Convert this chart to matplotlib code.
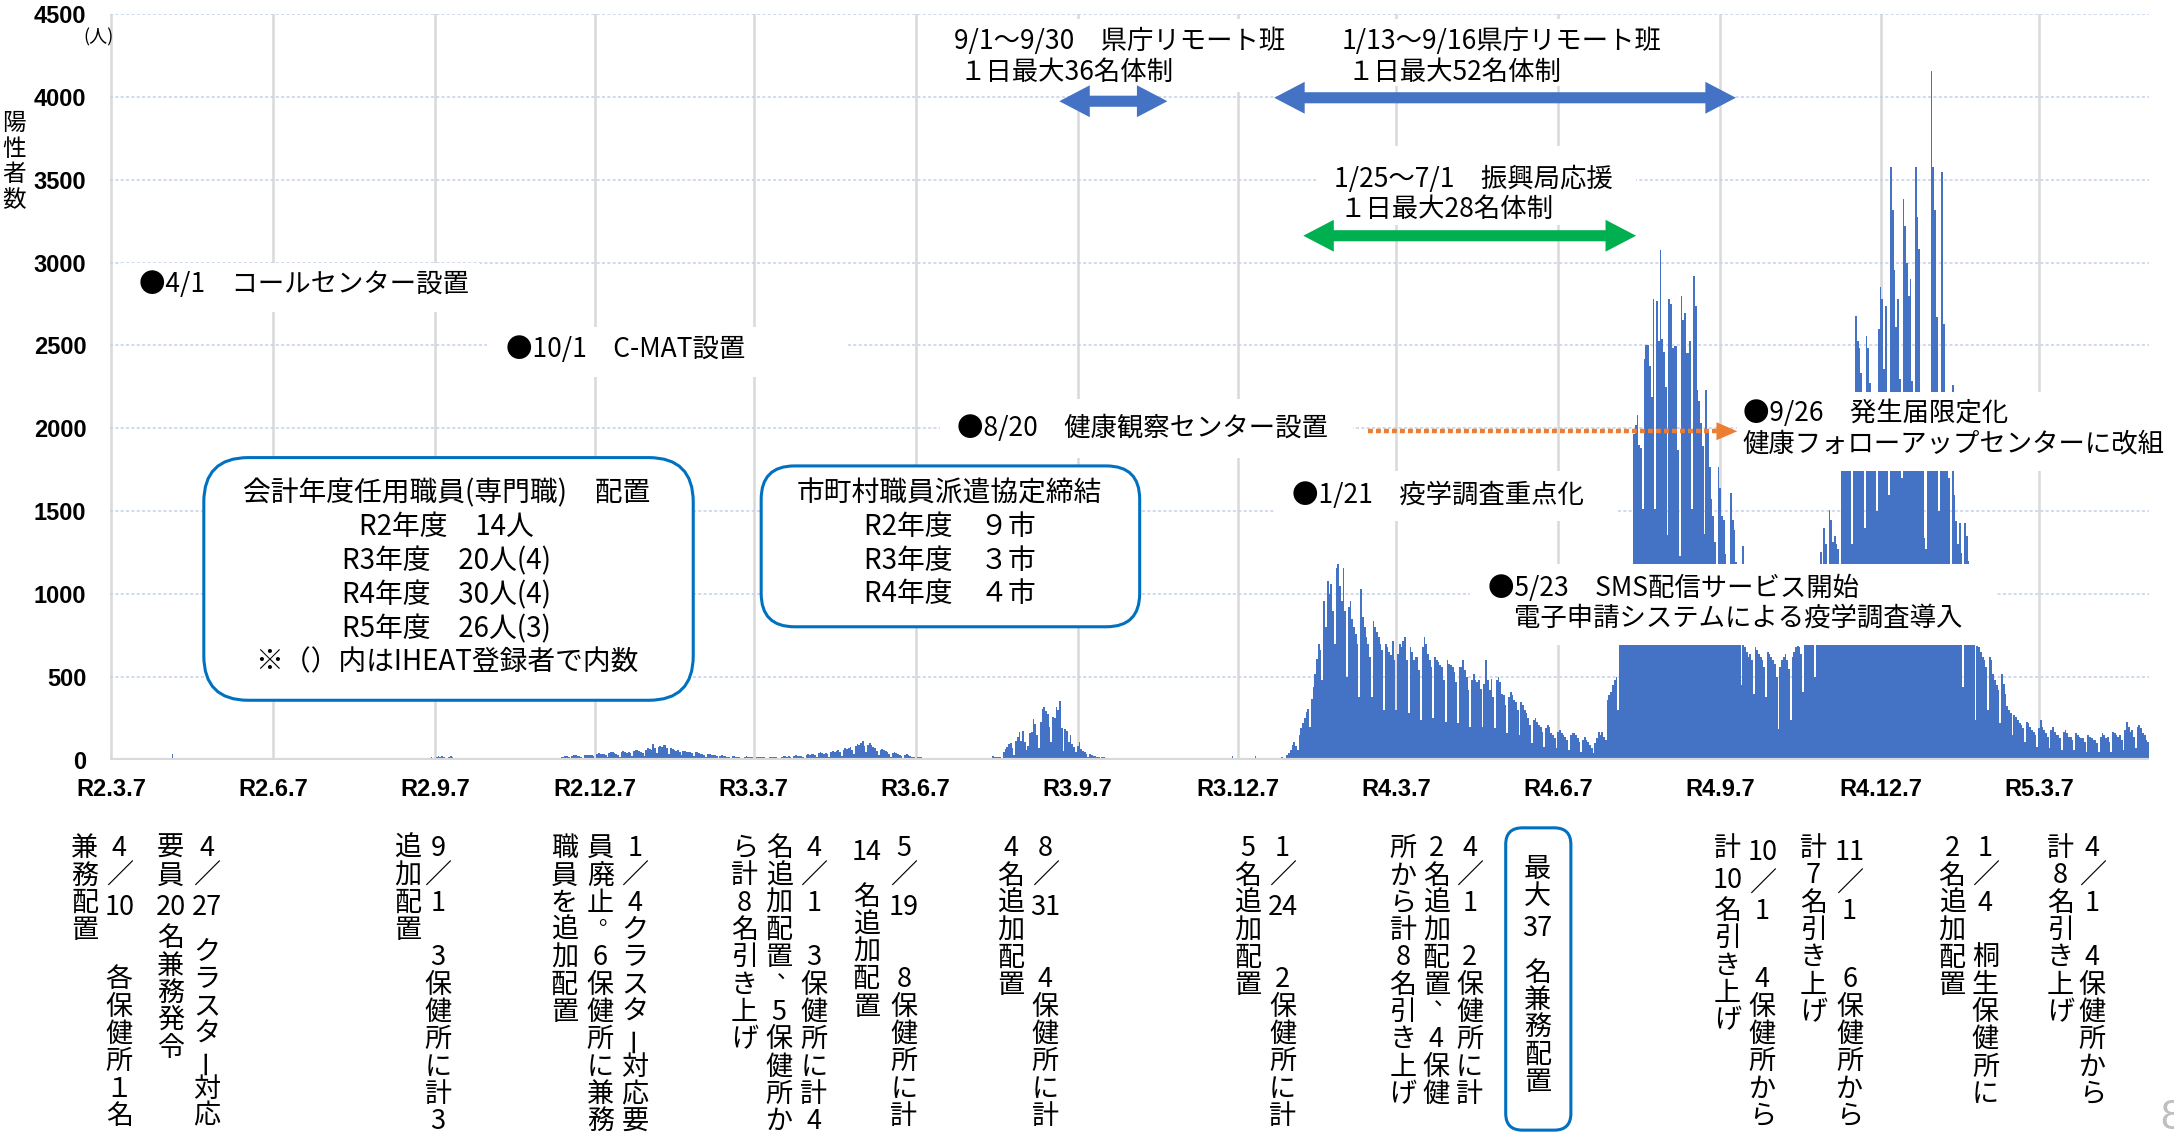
import matplotlib
matplotlib.use('Agg')  # no display in the sandbox
import matplotlib.pyplot as plt
from matplotlib.patches import Rectangle, Polygon, FancyBboxPatch
from matplotlib.lines import Line2D
import pandas as pd

JP = ['Noto Sans CJK JP', 'DejaVu Sans']
NUM = ['Liberation Sans', 'DejaVu Sans']

# daily positives from 2020-03-07, one row per week (Sat .. Fri)
cases_r2 = [
    0, 0, 0, 0, 0, 0, 0,
    0, 0, 0, 1, 0, 0, 0,
    0, 0, 0, 0, 1, 0, 1,
    2, 1, 0, 3, 2, 4, 3,
    5, 3, 1, 6, 8, 7, 9,
    36, 8, 2, 9, 6, 5, 7,
    6, 4, 2, 5, 4, 3, 5,
    3, 2, 0, 2, 3, 2, 1,
    1, 0, 0, 1, 1, 0, 0,
    0, 0, 0, 0, 1, 0, 0,
    0, 0, 0, 0, 0, 0, 0,
    0, 0, 0, 0, 0, 0, 1,
    0, 0, 0, 0, 0, 0, 0,
    0, 0, 0, 1, 0, 0, 0,
    0, 0, 0, 0, 0, 0, 0,
    0, 0, 0, 0, 0, 1, 0,
    0, 1, 0, 0, 0, 0, 0,
    0, 0, 0, 0, 1, 0, 2,
    1, 2, 0, 1, 3, 2, 1,
    2, 1, 0, 3, 2, 4, 3,
    3, 2, 1, 4, 3, 5, 4,
    6, 5, 2, 7, 8, 9, 10,
    12, 8, 4, 10, 13, 11, 9,
    8, 6, 3, 9, 11, 8, 7,
    6, 5, 2, 8, 10, 12, 9,
    7, 4, 2, 6, 8, 9, 12,
    15, 10, 5, 18, 22, 20, 24,
    20, 14, 6, 16, 22, 18, 13,
    10, 7, 3, 8, 9, 7, 6,
    8, 6, 2, 9, 7, 10, 8,
    6, 4, 2, 5, 7, 6, 5,
    4, 3, 1, 6, 8, 7, 6,
    10, 8, 4, 12, 14, 11, 9,
    7, 5, 2, 6, 8, 7, 6,
    5, 4, 2, 6, 7, 8, 6,
    7, 5, 3, 8, 9, 10, 9,
    10, 8, 5, 14, 18, 20, 22,
    24, 18, 10, 26, 30, 28, 25,
    22, 16, 9, 28, 32, 30, 27,
    30, 22, 14, 35, 40, 38, 34,
    36, 28, 16, 42, 45, 50, 40,
    38, 30, 18, 46, 52, 48, 44,
    50, 40, 22, 55, 60, 58, 52,
    48, 42, 25, 62, 70, 66, 60,
    98, 72, 40, 80, 85, 75, 92,
    88, 70, 38, 72, 66, 60, 55,
    58, 46, 28, 52, 55, 50, 45,
    48, 40, 22, 45, 50, 42, 38,
    36, 30, 16, 34, 38, 32, 30,
    28, 22, 12, 26, 30, 25, 22,
    20, 16, 8, 22, 24, 20, 18,
    18, 14, 7, 20, 22, 19, 17,
]
cases_r3 = [
    16, 12, 6, 18, 20, 17, 15,
    15, 12, 6, 16, 20, 18, 16,
    18, 14, 8, 20, 22, 24, 20,
    22, 17, 9, 24, 28, 26, 23,
    26, 20, 12, 30, 34, 32, 36,
    38, 30, 16, 40, 45, 42, 38,
    42, 34, 18, 46, 52, 48, 55,
    58, 45, 25, 62, 70, 66, 72,
    80, 62, 35, 85, 95, 90, 100,
    112, 85, 45, 90, 102, 88, 80,
    70, 55, 30, 62, 66, 58, 52,
    46, 38, 20, 44, 48, 40, 36,
    32, 26, 14, 30, 34, 28, 24,
    20, 15, 8, 18, 20, 16, 14,
    12, 9, 5, 11, 13, 10, 9,
    8, 6, 3, 8, 10, 9, 7,
    6, 5, 2, 7, 8, 6, 5,
    5, 4, 2, 6, 7, 5, 6,
    5, 4, 2, 6, 5, 6, 7,
    8, 6, 4, 12, 26, 18, 20,
    18, 16, 10, 46, 66, 80, 96,
    100, 70, 30, 116, 140, 167, 116,
    177, 106, 60, 86, 163, 167, 247,
    217, 150, 70, 227, 307, 318, 297,
    277, 200, 106, 257, 250, 318, 300,
    358, 190, 56, 187, 177, 106, 150,
    96, 80, 46, 86, 106, 66, 56,
    46, 38, 20, 36, 30, 26, 22,
    20, 16, 10, 18, 16, 14, 12,
    10, 8, 4, 9, 8, 6, 5,
    5, 4, 2, 4, 3, 3, 2,
    2, 1, 1, 2, 1, 2, 1,
    1, 1, 0, 1, 2, 1, 1,
    1, 0, 0, 1, 1, 0, 1,
    0, 1, 0, 0, 1, 0, 0,
    0, 0, 0, 1, 0, 0, 1,
    0, 0, 0, 0, 1, 0, 0,
    1, 0, 0, 1, 0, 1, 0,
    2, 1, 0, 6, 12, 8, 10,
    24, 10, 4, 8, 6, 5, 4,
    5, 3, 2, 6, 8, 10, 25,
    8, 6, 3, 7, 9, 8, 6,
    6, 5, 2, 8, 10, 9, 12,
    15, 12, 8, 30, 40, 60, 90,
    110, 84, 60, 150, 190, 220, 250,
    290, 310, 200, 370, 440, 520, 610,
    700, 660, 480, 960, 800, 1080, 1000,
    1060, 900, 700, 1160, 1180, 1050, 960,
    1160, 900, 500, 920, 960, 850, 800,
    760, 700, 380, 1030, 860, 800, 740,
    700, 620, 380, 840, 800, 770, 740,
    700, 660, 300, 700, 680, 650, 630,
]
cases_r4 = [
    720, 600, 300, 640, 700, 680, 720,
    740, 600, 280, 680, 650, 600, 620,
    620, 540, 240, 680, 740, 700, 640,
    600, 560, 250, 620, 600, 590, 570,
    560, 480, 230, 600, 580, 570, 560,
    530, 470, 220, 560, 560, 600, 540,
    500, 420, 200, 480, 520, 480, 470,
    480, 430, 200, 460, 600, 480, 420,
    490, 380, 190, 480, 500, 470, 400,
    390, 330, 160, 380, 410, 390, 360,
    350, 300, 150, 350, 330, 300, 280,
    250, 210, 100, 240, 250, 230, 210,
    200, 170, 80, 190, 210, 200, 160,
    150, 130, 70, 170, 180, 160, 150,
    140, 120, 60, 150, 160, 160, 150,
    130, 110, 50, 120, 140, 120, 110,
    90, 70, 40, 100, 130, 170, 150,
    170, 140, 120, 360, 390, 410, 450,
    480, 500, 300, 750, 900, 1000, 1100,
    1150, 1100, 800, 1180, 1966, 2019, 2083,
    1900, 1882, 1513, 2420, 2505, 2505, 2378,
    2188, 2779, 1513, 2768, 2526, 3078, 2536,
    2462, 2251, 1355, 2779, 2747, 2483, 2494,
    2494, 1872, 1228, 2800, 2652, 2694, 2452,
    2452, 2526, 1513, 2916, 2737, 2230, 2167,
    2030, 1893, 1365, 2230, 1998, 1766, 1576,
    1471, 1312, 950, 1766, 1640, 1471, 1450,
    1239, 1150, 800, 1608, 1450, 1386, 1196,
    750, 700, 450, 1291, 680, 650, 620,
    640, 600, 400, 680, 660, 640, 620,
    600, 560, 380, 650, 640, 620, 600,
    580, 500, 184, 560, 600, 620, 640,
    600, 550, 240, 620, 650, 680, 690,
    680, 640, 410, 700, 720, 740, 760,
    800, 760, 500, 1000, 1100, 1257, 1150,
    1400, 1300, 800, 1505, 1450, 1314, 1350,
    1300, 1271, 900, 1800, 1900, 2000, 2100,
    2000, 1900, 1300, 2100, 2675, 2528, 2486,
    2336, 2000, 1400, 2557, 2486, 2274, 2100,
    2100, 1900, 1500, 2600, 2853, 2783, 2359,
    2740, 2200, 1600, 3579, 3319, 2952, 2613,
    2783, 2300, 1700, 3382, 3221, 2995, 2797,
    2901, 2288, 1800, 3574, 3277, 3079, 2100,
    2100, 1340, 1270, 1800, 2200, 4158, 3574,
    3319, 2670, 1500, 2100, 3545, 2627, 2100,
    1900, 1700, 1100, 2260, 1600, 1440, 1300,
    1427, 1250, 438, 1427, 1350, 1200, 1050,
    900, 800, 240, 690, 680, 650, 620,
    600, 560, 300, 620, 600, 520, 480,
    450, 420, 220, 520, 460, 400, 325,
    300, 280, 150, 270, 260, 240, 220,
    210, 190, 110, 230, 220, 200, 180,
]
cases_r5 = [
    170, 150, 80, 190, 240, 200, 180,
    160, 140, 70, 180, 200, 170, 150,
    150, 130, 60, 170, 180, 160, 140,
    140, 120, 60, 160, 150, 140, 130,
    130, 110, 50, 150, 140, 130, 120,
    120, 100, 50, 140, 160, 150, 130,
    140, 110, 50, 170, 160, 150, 140,
    150, 120, 60, 180, 226, 200, 170,
    180, 140, 70, 200, 210, 190, 160,
    150, 120, 110,
]

tick_dates = ['2020-03-07', '2020-06-07', '2020-09-07', '2020-12-07', '2021-03-07',
              '2021-06-07', '2021-09-07', '2021-12-07', '2022-03-07', '2022-06-07',
              '2022-09-07', '2022-12-07', '2023-03-07']
tick_labels = ['R2.3.7', 'R2.6.7', 'R2.9.7', 'R2.12.7', 'R3.3.7', 'R3.6.7', 'R3.9.7',
               'R3.12.7', 'R4.3.7', 'R4.6.7', 'R4.9.7', 'R4.12.7', 'R5.3.7']
y_ticks = [0, 500, 1000, 1500, 2000, 2500, 3000, 3500, 4000, 4500]

# event labels: (text, left x, centre y) in reference layout units (1568 x 825)
events = [
    ('●4/1　コールセンター設置', 100, 205),
    ('●10/1　C-MAT設置', 365, 252),
    ('●8/20　健康観察センター設置', 690, 309),
    ('●1/21　疫学調査重点化', 932, 357),
    ('●5/23　SMS配信サービス開始', 1073, 424),
    ('電子申請システムによる疫学調査導入', 1092, 446),
    ('●9/26　発生届限定化', 1257, 298),
    ('健康フォローアップセンターに改組', 1257, 320),
    ('9/1～9/30　県庁リモート班', 688, 30),
    ('１日最大36名体制', 692, 52),
    ('1/13～9/16県庁リモート班', 968, 30),
    ('１日最大52名体制', 972, 52),
    ('1/25～7/1　振興局応援', 962, 129),
    ('１日最大28名体制', 966, 151),
]
# white fills behind the event labels (x0, x1, y0, y1)
label_fills = [(87, 346, 190, 225), (351, 610, 236, 272), (678, 976, 288, 330),
               (919, 1166, 340, 376), (1060, 1440, 407, 465), (1253, 1556, 283, 340),
               (680, 930, 14, 66), (958, 1205, 14, 62), (950, 1180, 105, 162)]

staff_lines = ['会計年度任用職員(専門職)　配置', 'R2年度　14人', 'R3年度　20人(4)',
               'R4年度　30人(4)', 'R5年度　26人(3)', '※（）内はIHEAT登録者で内数']
city_lines = ['市町村職員派遣協定締結', 'R2年度　９市', 'R3年度　３市', 'R4年度　４市']

# vertical notes under the axis: columns right to left, (x, text)
notes = [
    [(86, '4／10　 各保健所１名'), (61, '兼務配置')],
    [(149, '4／27 クラスター対応'), (123, '要員20名兼務発令')],
    [(316, '9／1　3保健所に計3'), (294, '追加配置')],
    [(458, '1／4クラスター対応要'), (433, '員廃止。6保健所に兼務'), (407, '職員を追加配置')],
    [(587, '4／1　3保健所に計4'), (562, '名追加配置、5保健所か'), (537, 'ら計8名引き上げ')],
    [(652, '5／19　 8保健所に計'), (625, '14 名追加配置')],
    [(754, '8／31　 4保健所に計'), (729, '4名追加配置')],
    [(925, '1／24　 2保健所に計'), (900, '5名追加配置')],
    [(1060, '4／1　2保健所に計'), (1036, '2名追加配置、4保健'), (1012, '所から計8名引き上げ')],
    [(1271, '10／1　 4保健所から'), (1246, '計10名引き上げ')],
    [(1334, '11／1　 6保健所から'), (1308, '計7名引き上げ')],
    [(1432, '1／4　桐生保健所に'), (1408, '2名追加配置')],
    [(1509, '4／1　4保健所から'), (1486, '計8名引き上げ')],
]
boxed_note = (1109, '最大37 名兼務配置')

W, H = 1568, 825  # layout units of the reference


def fx(x):
    return x / W


def fy(y):
    return 1 - y / H


def inch(x, y):
    return x / W * 21.74, (1 - y / H) * 11.44


cases = cases_r2 + cases_r3 + cases_r4 + cases_r5
dates = pd.date_range('2020-03-07', periods=len(cases), freq='D')
days = list(range(len(cases)))
tick_pos = [dates.get_loc(pd.Timestamp(d)) for d in tick_dates]

fig = plt.figure(figsize=(21.74, 11.44), dpi=100)
ax = fig.add_axes([fx(79.4), fy(548), fx(1550) - fx(79.4), fy(10) - fy(548)])

ax.bar(days, cases, width=1.0, color='#4472C4', linewidth=0, zorder=2)
ax.set_xlim(-0.5, len(cases) - 0.5)
ax.set_ylim(0, 4500)
ax.set_axisbelow(True)
ax.yaxis.grid(True, color='#C3D0EA', lw=1.1, linestyle=(0, (2, 1.5)))
ax.xaxis.grid(True, color='#D9D9D9', lw=1.8)
ax.axhline(0, color='#D9D9D9', lw=3, zorder=3)
for s in ax.spines.values():
    s.set_visible(False)

ax.set_yticks(y_ticks)
ax.set_yticklabels([str(v) for v in y_ticks], fontsize=17, fontweight='bold', family=NUM)
ax.set_xticks(tick_pos)
ax.set_xticklabels(tick_labels, fontsize=17, fontweight='bold', family=NUM)
ax.tick_params(axis='y', length=0, pad=17)
ax.tick_params(axis='x', length=0, pad=13)

# white label fills hide bars and grid like the text boxes in the original
for x0, x1, y0, y1 in label_fills:
    fig.add_artist(Rectangle((fx(x0), fy(y1)), fx(x1) - fx(x0), fy(y0) - fy(y1),
                             transform=fig.transFigure, facecolor='white',
                             edgecolor='none', zorder=1))

for text, x, y in events:
    fig.text(fx(x), fy(y), text, ha='left', va='center', fontsize=19, family=JP, zorder=3)


def rounded_box(x0, x1, y0, y1, r):
    ox, oy = inch(x0, y1)
    ex, ey = inch(x1, y0)
    rr = r / W * 21.74
    fig.add_artist(FancyBboxPatch((ox, oy), ex - ox, ey - oy,
                                  boxstyle=f'round,pad=0,rounding_size={rr}',
                                  transform=fig.dpi_scale_trans, facecolor='white',
                                  edgecolor='#0070C0', lw=2.2, zorder=2))


rounded_box(147, 500, 330, 505, 32)
for i, line in enumerate(staff_lines):
    fig.text(fx(322), fy(356 + i * 24.4), line, ha='center', va='center',
             fontsize=20, family=JP, zorder=3)
rounded_box(549, 822, 336, 452, 24)
for i, line in enumerate(city_lines):
    fig.text(fx(685), fy(356 + i * 24.2), line, ha='center', va='center',
             fontsize=20, family=JP, zorder=3)


def h_arrow(x0, x1, y, color, shaft=8, head=23, hl=22):
    hs, hh = shaft / 2, head / 2
    pts = [(x0, y), (x0 + hl, y - hh), (x0 + hl, y - hs), (x1 - hl, y - hs),
           (x1 - hl, y - hh), (x1, y), (x1 - hl, y + hh), (x1 - hl, y + hs),
           (x0 + hl, y + hs), (x0 + hl, y + hh)]
    fig.add_artist(Polygon([(fx(a), fy(b)) for a, b in pts], closed=True,
                           transform=fig.transFigure, facecolor=color,
                           edgecolor='none', zorder=4))


h_arrow(764, 842, 73, '#4472C4')
h_arrow(919, 1252, 70.5, '#4472C4')
h_arrow(940, 1180, 170, '#00B050')

fig.add_artist(Line2D([fx(987), fx(1240)], [fy(311), fy(311)], transform=fig.transFigure,
                      color='#ED7D31', lw=3.2, linestyle=(0, (1.1, 0.7)),
                      solid_capstyle='butt', zorder=4))
fig.add_artist(Polygon([(fx(1238), fy(304.5)), (fx(1253), fy(311)), (fx(1238), fy(317.5))],
                       closed=True, transform=fig.transFigure, facecolor='#ED7D31',
                       edgecolor='none', zorder=4))


def tokens(s):
    out, i = [], 0
    while i < len(s):
        if s[i].isascii() and s[i].isdigit():
            j = i
            while j < len(s) and s[j].isascii() and s[j].isdigit():
                j += 1
            out.append(s[i:j])
            i = j
        else:
            out.append(s[i])
            i += 1
    return out


def tate(x, y, text, size=19.5, pitch=19.7):
    # stacks characters top to bottom, digits kept upright side by side
    for tok in tokens(text):
        if tok == ' ':
            y += pitch * 0.5
            continue
        if tok == '　':
            y += pitch
            continue
        step = 1.3 if len(tok) > 1 else 1.0
        cy = y + (step - 1) * pitch / 2
        kw = dict(ha='center', va='center', fontsize=size, family=JP, zorder=3)
        if tok == 'ー':
            fig.text(fx(x), fy(cy), tok, rotation=90, **kw)
        elif tok in '、。':
            # small punctuation sits top right of its cell in vertical text
            fig.text(fx(x + 6), fy(cy - 9), tok, fontsize=size * 0.8, ha='center',
                     va='center', family=JP, zorder=3)
        else:
            fig.text(fx(x), fy(cy), tok, **kw)
        y += pitch * step


for block in notes:
    for x, text in block:
        tate(x, 612, text)

rounded_box(1086, 1133, 597, 815, 12)
tate(boxed_note[0], 627, boxed_note[1])

# axis title and unit
tate(10, 89, '陽性者数', size=17, pitch=18.5)
fig.text(fx(71), fy(27), '(人)', ha='center', va='center', fontsize=13, family=JP)

# page number cut at the slide edge
fig.text(fx(1558), fy(806), '8', ha='left', va='center', fontsize=30,
         color='#BFBFBF', family=NUM)

fig.savefig('out.png', dpi=100)
plt.close(fig)
